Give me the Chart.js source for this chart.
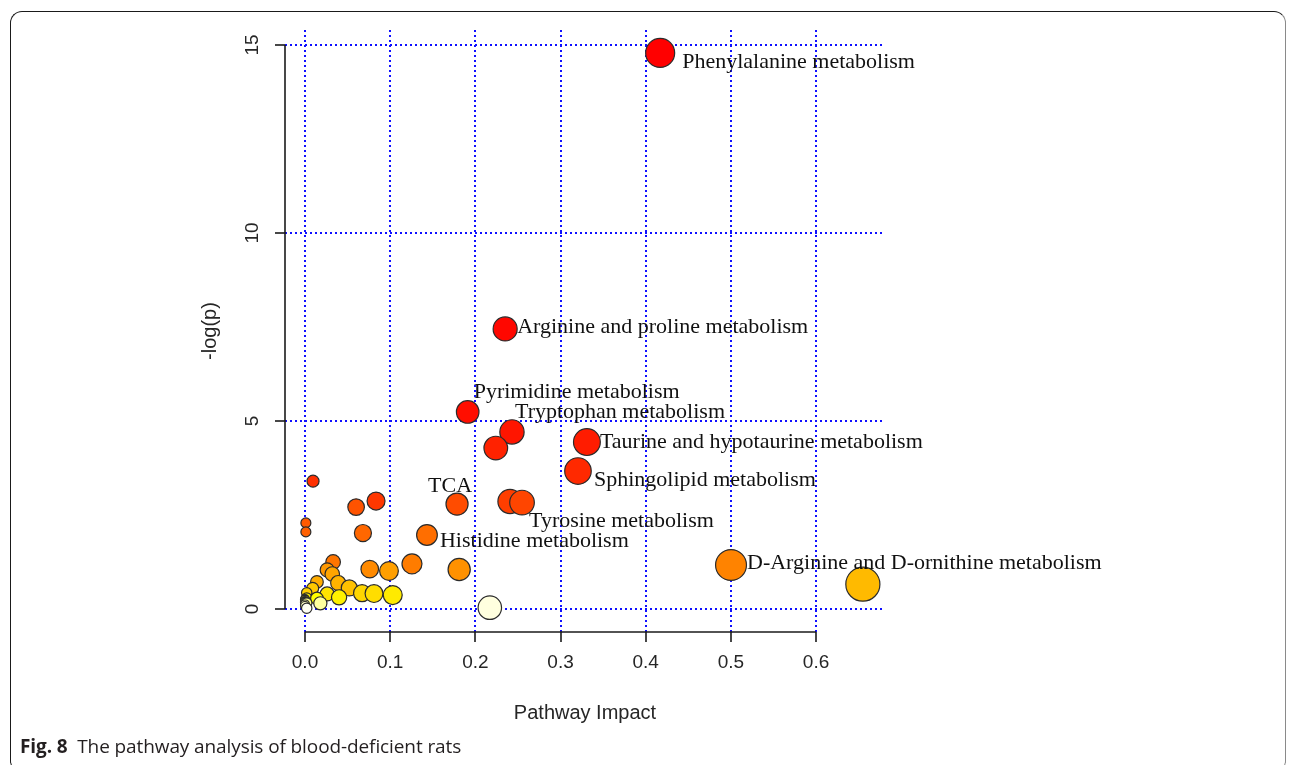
<!DOCTYPE html>
<html>
<head>
<meta charset="utf-8">
<title>Pathway analysis</title>
<script src="https://cdn.jsdelivr.net/npm/chart.js@4/dist/chart.umd.min.js"></script>
<style>
  html, body { margin: 0; padding: 0; background: #fff; width: 1295px; height: 765px; overflow: hidden; }
  #frame {
    position: absolute; left: 10px; top: 11px; width: 1276px; height: 762px;
    box-sizing: border-box; border: 1.5px solid #1a1a1a; border-right-color: #8a8a8a;
    border-radius: 12px;
  }
  #plot { position: absolute; left: 0; top: 0; }
  #caption {
    position: absolute; left: 20px; top: 733px;
    font-family: "Open Sans", "Noto Sans", sans-serif; font-size: 19px; color: #231f20;
    white-space: nowrap; letter-spacing: -0.1px;
  }
  #caption b { font-weight: 700; }
</style>
</head>
<body>
<div id="frame"></div>
<canvas id="plot" width="1295" height="765"></canvas>
<div id="caption"><b>Fig. 8</b>&nbsp; The pathway analysis of blood-deficient rats</div>

<script>
// Pathway impact (x) and -log(p) (y), one entry per pathway,
// listed from most to least significant.
const impact = [
  0.417, 0.235, 0.191, 0.243, 0.331, 0.224, 0.3205, 0.0094,
  0.0834, 0.2407, 0.2548, 0.1785, 0.060, 0.001, 0.001, 0.068,
  0.1432, 0.033, 0.1256, 0.5002, 0.076, 0.181, 0.026, 0.0986,
  0.032, 0.014, 0.039, 0.655, 0.052, 0.009, 0.002, 0.067,
  0.081, 0.026, 0.103, 0.040, 0.002, 0.014, 0.0, 0.0,
  0.0, 0.0, 0.0, 0.0, 0.002, 0.018, 0.0, 0.0,
  0.217, 0.002
];
const negLogP = [
  14.79, 7.45, 5.24, 4.71, 4.44, 4.28, 3.67, 3.40,
  2.87, 2.86, 2.83, 2.79, 2.71, 2.29, 2.05, 2.02,
  1.97, 1.25, 1.20, 1.17, 1.06, 1.05, 1.04, 1.01,
  0.93, 0.72, 0.69, 0.66, 0.56, 0.55, 0.43, 0.42,
  0.41, 0.40, 0.37, 0.31, 0.29, 0.28, 0.26, 0.24,
  0.21, 0.19, 0.17, 0.165, 0.16, 0.15, 0.12, 0.08,
  0.035, 0.02
];
// Names of the pathways that carry a text label (null = unlabeled)
const pathwayNames = [
  "Phenylalanine metabolism", "Arginine and proline metabolism", "Pyrimidine metabolism",
  "Tryptophan metabolism", "Taurine and hypotaurine metabolism", null,
  "Sphingolipid metabolism", null, null, null, "Tyrosine metabolism", "TCA",
  null, null, null, null, "Histidine metabolism", null, null,
  "D-Arginine and D-ornithine metabolism"
];
while (pathwayNames.length < impact.length) pathwayNames.push(null);

const xTickValues = [0, 0.1, 0.2, 0.3, 0.4, 0.5, 0.6];
const xTickLabels = ["0.0", "0.1", "0.2", "0.3", "0.4", "0.5", "0.6"];
const yTickValues = [0, 5, 10, 15];
const yTickLabels = ["0", "5", "10", "15"];

// Text placement of each label relative to its circle centre (px): left edge, vertical middle
const labelPlacement = {
  "Phenylalanine metabolism": [22, 9],
  "Arginine and proline metabolism": [12, -2],
  "Pyrimidine metabolism": [6, -20],
  "Tryptophan metabolism": [3, -20],
  "Taurine and hypotaurine metabolism": [13, 0],
  "Sphingolipid metabolism": [16, 9],
  "TCA": [-29, -18],
  "Tyrosine metabolism": [7, 19],
  "Histidine metabolism": [13, 6],
  "D-Arginine and D-ornithine metabolism": [16, -2]
};

// R-style heat.colors palette assigned by significance rank
function heatColors(n) {
  const j = Math.floor(n / 4), i = n - j, out = [];
  const hsv = (h, s, v) => {
    const f = (k) => { const kk = (k + h * 6) % 6; return v - v * s * Math.max(0, Math.min(kk, 4 - kk, 1)); };
    const c = (x) => Math.round(x * 255);
    return `rgb(${c(f(5))},${c(f(3))},${c(f(1))})`;
  };
  for (let k = 0; k < i; k++) out.push(hsv(i > 1 ? (k / (i - 1)) / 6 : 0, 1, 1));
  for (let k = 0; k < j; k++) {
    const s = j > 1 ? (1 - 1 / (2 * j)) - k * ((1 - 1 / j) / (j - 1)) : 0.5;
    out.push(hsv(1 / 6, s, 1));
  }
  return out;
}
const rankOrder = negLogP.map((v, k) => k).sort((a, b) => negLogP[b] - negLogP[a]);
const palette = heatColors(impact.length);
const fillColors = new Array(impact.length);
rankOrder.forEach((idx, rank) => { fillColors[idx] = palette[rank]; });

// Circle radius grows with the square root of the pathway impact
const radiusOf = (v) => 4.5 + 15.5 * Math.sqrt(Math.max(0, v));

const points = impact.map((x, k) => ({ x: x, y: negLogP[k], r: radiusOf(x) }));

const AXIS_FONT = '"Liberation Sans", Arial, sans-serif';
const LABEL_FONT = '"Liberation Serif", "Times New Roman", serif';

const axesAndGrid = {
  id: 'axesAndGrid',
  beforeDatasetsDraw(chart) {
    const { ctx, chartArea: a, scales: { x, y } } = chart;
    ctx.save();
    // dotted blue reference grid
    ctx.strokeStyle = '#1010ff';
    ctx.lineWidth = 2;
    ctx.setLineDash([2, 3]);
    xTickValues.forEach(v => {
      const px = Math.round(x.getPixelForValue(v));
      ctx.beginPath(); ctx.moveTo(px, a.top); ctx.lineTo(px, a.bottom); ctx.stroke();
    });
    yTickValues.forEach(v => {
      const py = Math.round(y.getPixelForValue(v));
      ctx.beginPath(); ctx.moveTo(a.left, py); ctx.lineTo(a.right, py); ctx.stroke();
    });
    ctx.setLineDash([]);

    // axis lines spanning the tick range, with outward ticks
    ctx.strokeStyle = '#1a1a1a';
    ctx.lineWidth = 1.6;
    const x0 = x.getPixelForValue(xTickValues[0]);
    const x1 = x.getPixelForValue(xTickValues[xTickValues.length - 1]);
    const yb = a.bottom;
    ctx.beginPath(); ctx.moveTo(x0, yb); ctx.lineTo(x1, yb); ctx.stroke();
    xTickValues.forEach(v => {
      const px = Math.round(x.getPixelForValue(v));
      ctx.beginPath(); ctx.moveTo(px, yb); ctx.lineTo(px, yb + 10); ctx.stroke();
    });
    const y0 = y.getPixelForValue(yTickValues[0]);
    const y1 = y.getPixelForValue(yTickValues[yTickValues.length - 1]);
    const xl = a.left;
    ctx.beginPath(); ctx.moveTo(xl, y0); ctx.lineTo(xl, y1); ctx.stroke();
    yTickValues.forEach(v => {
      const py = Math.round(y.getPixelForValue(v));
      ctx.beginPath(); ctx.moveTo(xl, py); ctx.lineTo(xl - 10, py); ctx.stroke();
    });

    // tick labels
    ctx.fillStyle = '#262626';
    ctx.font = '19px ' + AXIS_FONT;
    ctx.textAlign = 'center';
    ctx.textBaseline = 'middle';
    xTickValues.forEach((v, k) => ctx.fillText(xTickLabels[k], x.getPixelForValue(v), yb + 31));
    yTickValues.forEach((v, k) => {
      ctx.save();
      ctx.translate(xl - 32, y.getPixelForValue(v));
      ctx.rotate(-Math.PI / 2);
      ctx.fillText(yTickLabels[k], 0, 0);
      ctx.restore();
    });

    // axis titles
    ctx.font = '20px ' + AXIS_FONT;
    ctx.fillText('Pathway Impact', (a.left + a.right) / 2, 713);
    ctx.save();
    ctx.translate(210, (a.top + a.bottom) / 2);
    ctx.rotate(-Math.PI / 2);
    ctx.fillText('-log(p)', 0, 0);
    ctx.restore();
    ctx.restore();
  },
  afterDatasetsDraw(chart) {
    const { ctx } = chart;
    const meta = chart.getDatasetMeta(0);
    ctx.save();
    ctx.fillStyle = '#111';
    ctx.font = '22px ' + LABEL_FONT;
    ctx.textAlign = 'left';
    ctx.textBaseline = 'middle';
    pathwayNames.forEach((name, k) => {
      if (!name) return;
      const el = meta.data[k];
      const off = labelPlacement[name] || [12, 0];
      ctx.fillText(name, el.x + off[0], el.y + off[1]);
    });
    ctx.restore();
  }
};

new Chart(document.getElementById('plot'), {
  type: 'bubble',
  data: {
    datasets: [{
      data: points,
      backgroundColor: fillColors,
      borderColor: '#2b2b2b',
      borderWidth: 1.2,
      hoverBorderWidth: 1.2,
      clip: false
    }]
  },
  options: {
    responsive: false,
    devicePixelRatio: 1,
    animation: false,
    events: [],
    layout: { padding: { left: 285, top: 30, right: 410, bottom: 133 } },
    plugins: { legend: { display: false }, tooltip: { enabled: false } },
    scales: {
      x: { type: 'linear', display: false, min: -0.0235, max: 0.681 },
      y: { type: 'linear', display: false, min: -0.612, max: 15.4 }
    }
  },
  plugins: [axesAndGrid]
});
</script>
</body>
</html>
